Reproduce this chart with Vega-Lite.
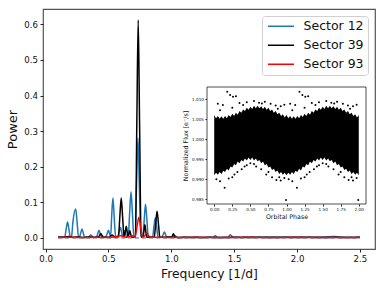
{
"$schema":"https://vega.github.io/schema/vega-lite/v6.json",
"width":332,"height":240,
"autosize":{"type":"none"},
"padding":{"left":43,"top":9,"right":9,"bottom":39},
"config":{"font":"DejaVu Sans","view":{"stroke":"#555","strokeWidth":1.2},
 "axis":{"grid":false,"domain":false,"tickColor":"#222","labelColor":"#111","titleColor":"#111","titleFontWeight":"normal","labelFlush":false}},
"layer":[
 {"data":{"values":[
{"s":"Sector 12","f":0.100,"p":0.002},{"s":"Sector 12","f":0.130,"p":0.003},{"s":"Sector 12","f":0.153,"p":0.003},{"s":"Sector 12","f":0.164,"p":0.025},{"s":"Sector 12","f":0.175,"p":0.045},{"s":"Sector 12","f":0.186,"p":0.025},{"s":"Sector 12","f":0.197,"p":0.003},{"s":"Sector 12","f":0.207,"p":0.004},{"s":"Sector 12","f":0.218,"p":0.045},{"s":"Sector 12","f":0.240,"p":0.081},{"s":"Sector 12","f":0.251,"p":0.045},{"s":"Sector 12","f":0.262,"p":0.004},{"s":"Sector 12","f":0.270,"p":0.003},{"s":"Sector 12","f":0.280,"p":0.014},{"s":"Sector 12","f":0.290,"p":0.025},{"s":"Sector 12","f":0.300,"p":0.014},{"s":"Sector 12","f":0.310,"p":0.002},{"s":"Sector 12","f":0.340,"p":0.002},{"s":"Sector 12","f":0.350,"p":0.005},{"s":"Sector 12","f":0.360,"p":0.008},{"s":"Sector 12","f":0.370,"p":0.005},{"s":"Sector 12","f":0.380,"p":0.001},{"s":"Sector 12","f":0.405,"p":0.003},{"s":"Sector 12","f":0.415,"p":0.012},{"s":"Sector 12","f":0.425,"p":0.022},{"s":"Sector 12","f":0.435,"p":0.012},{"s":"Sector 12","f":0.448,"p":0.002},{"s":"Sector 12","f":0.478,"p":0.003},{"s":"Sector 12","f":0.490,"p":0.012},{"s":"Sector 12","f":0.500,"p":0.022},{"s":"Sector 12","f":0.510,"p":0.012},{"s":"Sector 12","f":0.518,"p":0.004},{"s":"Sector 12","f":0.526,"p":0.060},{"s":"Sector 12","f":0.536,"p":0.112},{"s":"Sector 12","f":0.546,"p":0.060},{"s":"Sector 12","f":0.557,"p":0.004},{"s":"Sector 12","f":0.575,"p":0.004},{"s":"Sector 12","f":0.585,"p":0.017},{"s":"Sector 12","f":0.595,"p":0.030},{"s":"Sector 12","f":0.605,"p":0.017},{"s":"Sector 12","f":0.615,"p":0.003},{"s":"Sector 12","f":0.623,"p":0.011},{"s":"Sector 12","f":0.630,"p":0.020},{"s":"Sector 12","f":0.637,"p":0.011},{"s":"Sector 12","f":0.645,"p":0.003},{"s":"Sector 12","f":0.658,"p":0.004},{"s":"Sector 12","f":0.669,"p":0.070},{"s":"Sector 12","f":0.680,"p":0.130},{"s":"Sector 12","f":0.691,"p":0.070},{"s":"Sector 12","f":0.702,"p":0.004},{"s":"Sector 12","f":0.714,"p":0.004},{"s":"Sector 12","f":0.724,"p":0.150},{"s":"Sector 12","f":0.735,"p":0.280},{"s":"Sector 12","f":0.746,"p":0.150},{"s":"Sector 12","f":0.757,"p":0.004},{"s":"Sector 12","f":0.774,"p":0.004},{"s":"Sector 12","f":0.785,"p":0.052},{"s":"Sector 12","f":0.795,"p":0.095},{"s":"Sector 12","f":0.806,"p":0.052},{"s":"Sector 12","f":0.817,"p":0.003},{"s":"Sector 12","f":0.851,"p":0.003},{"s":"Sector 12","f":0.862,"p":0.031},{"s":"Sector 12","f":0.873,"p":0.057},{"s":"Sector 12","f":0.884,"p":0.031},{"s":"Sector 12","f":0.895,"p":0.003},{"s":"Sector 12","f":0.925,"p":0.002},{"s":"Sector 12","f":0.935,"p":0.009},{"s":"Sector 12","f":0.945,"p":0.017},{"s":"Sector 12","f":0.955,"p":0.009},{"s":"Sector 12","f":0.965,"p":0.002},{"s":"Sector 12","f":0.990,"p":0.002},{"s":"Sector 12","f":1.010,"p":0.002},{"s":"Sector 12","f":1.030,"p":0.006},{"s":"Sector 12","f":1.050,"p":0.001},{"s":"Sector 12","f":1.100,"p":0.002},{"s":"Sector 12","f":1.150,"p":0.002},{"s":"Sector 12","f":1.200,"p":0.003},{"s":"Sector 12","f":1.250,"p":0.001},{"s":"Sector 12","f":1.300,"p":0.002},{"s":"Sector 12","f":1.330,"p":0.002},{"s":"Sector 12","f":1.350,"p":0.006},{"s":"Sector 12","f":1.370,"p":0.001},{"s":"Sector 12","f":1.420,"p":0.002},{"s":"Sector 12","f":1.450,"p":0.002},{"s":"Sector 12","f":1.470,"p":0.009},{"s":"Sector 12","f":1.490,"p":0.002},{"s":"Sector 12","f":1.550,"p":0.002},{"s":"Sector 12","f":1.600,"p":0.003},{"s":"Sector 12","f":1.700,"p":0.002},{"s":"Sector 12","f":1.800,"p":0.003},{"s":"Sector 12","f":1.900,"p":0.002},{"s":"Sector 12","f":2.000,"p":0.003},{"s":"Sector 12","f":2.100,"p":0.002},{"s":"Sector 12","f":2.200,"p":0.003},{"s":"Sector 12","f":2.300,"p":0.004},{"s":"Sector 12","f":2.400,"p":0.002},{"s":"Sector 12","f":2.500,"p":0.003},
{"s":"Sector 39","f":0.100,"p":0.003},{"s":"Sector 39","f":0.140,"p":0.002},{"s":"Sector 39","f":0.180,"p":0.004},{"s":"Sector 39","f":0.220,"p":0.002},{"s":"Sector 39","f":0.260,"p":0.003},{"s":"Sector 39","f":0.300,"p":0.001},{"s":"Sector 39","f":0.340,"p":0.003},{"s":"Sector 39","f":0.380,"p":0.002},{"s":"Sector 39","f":0.420,"p":0.003},{"s":"Sector 39","f":0.430,"p":0.007},{"s":"Sector 39","f":0.440,"p":0.012},{"s":"Sector 39","f":0.450,"p":0.007},{"s":"Sector 39","f":0.460,"p":0.002},{"s":"Sector 39","f":0.505,"p":0.002},{"s":"Sector 39","f":0.518,"p":0.005},{"s":"Sector 39","f":0.530,"p":0.008},{"s":"Sector 39","f":0.542,"p":0.005},{"s":"Sector 39","f":0.555,"p":0.002},{"s":"Sector 39","f":0.580,"p":0.003},{"s":"Sector 39","f":0.591,"p":0.060},{"s":"Sector 39","f":0.602,"p":0.112},{"s":"Sector 39","f":0.613,"p":0.060},{"s":"Sector 39","f":0.624,"p":0.004},{"s":"Sector 39","f":0.635,"p":0.018},{"s":"Sector 39","f":0.642,"p":0.033},{"s":"Sector 39","f":0.649,"p":0.018},{"s":"Sector 39","f":0.656,"p":0.004},{"s":"Sector 39","f":0.663,"p":0.011},{"s":"Sector 39","f":0.670,"p":0.020},{"s":"Sector 39","f":0.677,"p":0.011},{"s":"Sector 39","f":0.685,"p":0.002},{"s":"Sector 39","f":0.715,"p":0.003},{"s":"Sector 39","f":0.726,"p":0.320},{"s":"Sector 39","f":0.737,"p":0.612},{"s":"Sector 39","f":0.748,"p":0.320},{"s":"Sector 39","f":0.760,"p":0.003},{"s":"Sector 39","f":0.775,"p":0.003},{"s":"Sector 39","f":0.783,"p":0.020},{"s":"Sector 39","f":0.790,"p":0.037},{"s":"Sector 39","f":0.797,"p":0.020},{"s":"Sector 39","f":0.806,"p":0.002},{"s":"Sector 39","f":0.865,"p":0.003},{"s":"Sector 39","f":0.876,"p":0.040},{"s":"Sector 39","f":0.887,"p":0.075},{"s":"Sector 39","f":0.898,"p":0.040},{"s":"Sector 39","f":0.909,"p":0.002},{"s":"Sector 39","f":0.950,"p":0.002},{"s":"Sector 39","f":0.980,"p":0.003},{"s":"Sector 39","f":1.005,"p":0.003},{"s":"Sector 39","f":1.017,"p":0.012},{"s":"Sector 39","f":1.029,"p":0.003},{"s":"Sector 39","f":1.060,"p":0.001},{"s":"Sector 39","f":1.100,"p":0.002},{"s":"Sector 39","f":1.200,"p":0.001},{"s":"Sector 39","f":1.300,"p":0.002},{"s":"Sector 39","f":1.400,"p":0.001},{"s":"Sector 39","f":1.500,"p":0.002},{"s":"Sector 39","f":1.600,"p":0.001},{"s":"Sector 39","f":1.700,"p":0.002},{"s":"Sector 39","f":1.800,"p":0.001},{"s":"Sector 39","f":1.900,"p":0.002},{"s":"Sector 39","f":2.000,"p":0.001},{"s":"Sector 39","f":2.100,"p":0.002},{"s":"Sector 39","f":2.200,"p":0.001},{"s":"Sector 39","f":2.300,"p":0.002},{"s":"Sector 39","f":2.400,"p":0.001},{"s":"Sector 39","f":2.500,"p":0.002},
{"s":"Sector 93","f":0.100,"p":0.001},{"s":"Sector 93","f":0.200,"p":0.002},{"s":"Sector 93","f":0.300,"p":0.001},{"s":"Sector 93","f":0.400,"p":0.002},{"s":"Sector 93","f":0.500,"p":0.001},{"s":"Sector 93","f":0.550,"p":0.003},{"s":"Sector 93","f":0.600,"p":0.006},{"s":"Sector 93","f":0.640,"p":0.002},{"s":"Sector 93","f":0.690,"p":0.006},{"s":"Sector 93","f":0.712,"p":0.002},{"s":"Sector 93","f":0.727,"p":0.030},{"s":"Sector 93","f":0.742,"p":0.058},{"s":"Sector 93","f":0.757,"p":0.030},{"s":"Sector 93","f":0.772,"p":0.002},{"s":"Sector 93","f":0.790,"p":0.006},{"s":"Sector 93","f":0.805,"p":0.014},{"s":"Sector 93","f":0.820,"p":0.006},{"s":"Sector 93","f":0.835,"p":0.002},{"s":"Sector 93","f":0.900,"p":0.002},{"s":"Sector 93","f":1.000,"p":0.001},{"s":"Sector 93","f":1.200,"p":0.002},{"s":"Sector 93","f":1.400,"p":0.001},{"s":"Sector 93","f":1.600,"p":0.002},{"s":"Sector 93","f":1.800,"p":0.001},{"s":"Sector 93","f":2.000,"p":0.002},{"s":"Sector 93","f":2.200,"p":0.001},{"s":"Sector 93","f":2.500,"p":0.001}
 ]},
  "mark":{"type":"line","strokeWidth":1.5,"interpolate":"monotone"},
   "encoding":{
    "x":{"field":"f","type":"quantitative","scale":{"domain":[-0.02,2.62],"nice":false,"zero":false},
      "axis":{"orient":"bottom","values":[0,0.5,1,1.5,2,2.5],"format":".1f","labelFontSize":8.6,"tickSize":3,"labelPadding":2.5,"title":"Frequency [1/d]","titleFontSize":12.3,"titlePadding":4}},
    "y":{"field":"p","type":"quantitative","scale":{"domain":[-0.031,0.643],"nice":false,"zero":false},
      "axis":{"orient":"left","values":[0,0.1,0.2,0.3,0.4,0.5,0.6],"format":".1f","labelFontSize":8.6,"tickSize":3,"labelPadding":2.5,"title":"Power","titleFontSize":13,"titlePadding":4}},
    "color":{"field":"s","type":"nominal","scale":{"domain":["Sector 12","Sector 39","Sector 93"],"range":["#1f77b4","#000000","#ff0000"]},
      "legend":{"title":null,"orient":"top-right","offset":7,"symbolType":"M-1,0H5","symbolSize":76,"symbolStrokeWidth":1.5,"labelFontSize":12.5,"labelOffset":25,"rowPadding":6,"padding":4,"strokeColor":"#d0d0d0","fillColor":"white","cornerRadius":3,"labelColor":"#111"}}
   }},
 {"data":{"values":[{}]},
  "mark":{"type":"rule","strokeDash":[4,3],"color":"#666","strokeWidth":1},
  "encoding":{"x":{"datum":0.1,"type":"quantitative","scale":{"domain":[-0.02,2.62],"nice":false,"zero":false},"axis":null},"x2":{"datum":2.5},
   "y":{"datum":0,"type":"quantitative","scale":{"domain":[-0.031,0.643],"nice":false,"zero":false},"axis":null}}},
 {"data":{"values":[{}]},
  "mark":{"type":"rect","fill":"white","stroke":"#222","strokeWidth":0.8},
  "encoding":{
   "x":{"datum":-0.1,"type":"quantitative","scale":{"domain":[-0.1,2.1],"range":[164,323],"nice":false,"zero":false},"axis":null},
   "x2":{"datum":2.1},
   "y":{"datum":0.98383,"type":"quantitative","scale":{"domain":[0.98383,1.013],"range":[195,78],"nice":false,"zero":false},"axis":null},
   "y2":{"datum":1.013}
  }},
 {"data":{"values":[
{"ph":0.000,"lo":0.9910,"hi":1.0060},{"ph":0.025,"lo":0.9916,"hi":1.0052},{"ph":0.050,"lo":0.9911,"hi":1.0058},{"ph":0.075,"lo":0.9918,"hi":1.0051},{"ph":0.100,"lo":0.9913,"hi":1.0057},{"ph":0.125,"lo":0.9921,"hi":1.0051},{"ph":0.150,"lo":0.9918,"hi":1.0058},{"ph":0.175,"lo":0.9926,"hi":1.0052},{"ph":0.200,"lo":0.9922,"hi":1.0060},{"ph":0.225,"lo":0.9932,"hi":1.0055},{"ph":0.250,"lo":0.9929,"hi":1.0063},{"ph":0.275,"lo":0.9938,"hi":1.0058},{"ph":0.300,"lo":0.9935,"hi":1.0066},{"ph":0.325,"lo":0.9944,"hi":1.0061},{"ph":0.350,"lo":0.9940,"hi":1.0070},{"ph":0.375,"lo":0.9948,"hi":1.0066},{"ph":0.400,"lo":0.9944,"hi":1.0074},{"ph":0.425,"lo":0.9952,"hi":1.0070},{"ph":0.450,"lo":0.9947,"hi":1.0078},{"ph":0.475,"lo":0.9954,"hi":1.0073},{"ph":0.500,"lo":0.9948,"hi":1.0081},{"ph":0.525,"lo":0.9954,"hi":1.0075},{"ph":0.550,"lo":0.9947,"hi":1.0083},{"ph":0.575,"lo":0.9952,"hi":1.0077},{"ph":0.600,"lo":0.9945,"hi":1.0083},{"ph":0.625,"lo":0.9948,"hi":1.0077},{"ph":0.650,"lo":0.9940,"hi":1.0082},{"ph":0.675,"lo":0.9944,"hi":1.0075},{"ph":0.700,"lo":0.9935,"hi":1.0081},{"ph":0.725,"lo":0.9938,"hi":1.0073},{"ph":0.750,"lo":0.9929,"hi":1.0078},{"ph":0.775,"lo":0.9932,"hi":1.0070},{"ph":0.800,"lo":0.9923,"hi":1.0074},{"ph":0.825,"lo":0.9926,"hi":1.0066},{"ph":0.850,"lo":0.9918,"hi":1.0070},{"ph":0.875,"lo":0.9922,"hi":1.0062},{"ph":0.900,"lo":0.9913,"hi":1.0066},{"ph":0.925,"lo":0.9918,"hi":1.0058},{"ph":0.950,"lo":0.9911,"hi":1.0062},{"ph":0.975,"lo":0.9916,"hi":1.0054},
{"ph":1.000,"lo":0.9910,"hi":1.0060},{"ph":1.025,"lo":0.9916,"hi":1.0052},{"ph":1.050,"lo":0.9911,"hi":1.0058},{"ph":1.075,"lo":0.9918,"hi":1.0051},{"ph":1.100,"lo":0.9913,"hi":1.0057},{"ph":1.125,"lo":0.9921,"hi":1.0051},{"ph":1.150,"lo":0.9918,"hi":1.0058},{"ph":1.175,"lo":0.9926,"hi":1.0052},{"ph":1.200,"lo":0.9922,"hi":1.0060},{"ph":1.225,"lo":0.9932,"hi":1.0055},{"ph":1.250,"lo":0.9929,"hi":1.0063},{"ph":1.275,"lo":0.9938,"hi":1.0058},{"ph":1.300,"lo":0.9935,"hi":1.0066},{"ph":1.325,"lo":0.9944,"hi":1.0061},{"ph":1.350,"lo":0.9940,"hi":1.0070},{"ph":1.375,"lo":0.9948,"hi":1.0066},{"ph":1.400,"lo":0.9944,"hi":1.0074},{"ph":1.425,"lo":0.9952,"hi":1.0070},{"ph":1.450,"lo":0.9947,"hi":1.0078},{"ph":1.475,"lo":0.9954,"hi":1.0073},{"ph":1.500,"lo":0.9948,"hi":1.0081},{"ph":1.525,"lo":0.9954,"hi":1.0075},{"ph":1.550,"lo":0.9947,"hi":1.0083},{"ph":1.575,"lo":0.9952,"hi":1.0077},{"ph":1.600,"lo":0.9945,"hi":1.0083},{"ph":1.625,"lo":0.9948,"hi":1.0077},{"ph":1.650,"lo":0.9940,"hi":1.0082},{"ph":1.675,"lo":0.9944,"hi":1.0075},{"ph":1.700,"lo":0.9935,"hi":1.0081},{"ph":1.725,"lo":0.9938,"hi":1.0073},{"ph":1.750,"lo":0.9929,"hi":1.0078},{"ph":1.775,"lo":0.9932,"hi":1.0070},{"ph":1.800,"lo":0.9923,"hi":1.0074},{"ph":1.825,"lo":0.9926,"hi":1.0066},{"ph":1.850,"lo":0.9918,"hi":1.0070},{"ph":1.875,"lo":0.9922,"hi":1.0062},{"ph":1.900,"lo":0.9913,"hi":1.0066},{"ph":1.925,"lo":0.9918,"hi":1.0058},{"ph":1.950,"lo":0.9911,"hi":1.0062},{"ph":1.975,"lo":0.9916,"hi":1.0054},{"ph":2.000,"lo":0.9910,"hi":1.0060}
 ]},
  "mark":{"type":"area","color":"black","opacity":1},
  "encoding":{
   "x":{"field":"ph","type":"quantitative","scale":{"domain":[-0.1,2.1],"range":[164,323],"nice":false,"zero":false},
     "axis":{"orient":"bottom","offset":-45,"values":[0,0.25,0.5,0.75,1,1.25,1.5,1.75,2],"format":".2f","labelFontSize":4.2,"tickSize":2,"labelPadding":1.5,"title":"Orbital Phase","titleFontSize":6.3,"titlePadding":1.5}},
   "y":{"field":"lo","type":"quantitative","scale":{"domain":[0.98383,1.013],"range":[195,78],"nice":false,"zero":false},
     "axis":{"orient":"left","offset":-164,"values":[0.985,0.99,0.995,1.0,1.005,1.01],"format":".3f","labelFontSize":4.2,"tickSize":2,"labelPadding":1.5,"title":"Normalized Flux [e⁻/s]","titleFontSize":6.3,"titlePadding":3}},
   "y2":{"field":"hi"}}},
 {"data":{"values":[
{"ph":0.18,"fx":1.0118},{"ph":0.22,"fx":1.0110},{"ph":0.26,"fx":1.0106},{"ph":0.30,"fx":1.0107},{"ph":0.05,"fx":1.0088},{"ph":0.12,"fx":1.0085},{"ph":0.35,"fx":1.0090},{"ph":0.45,"fx":1.0092},{"ph":0.55,"fx":1.0095},{"ph":0.62,"fx":1.0091},{"ph":0.70,"fx":1.0093},{"ph":0.78,"fx":1.0088},{"ph":0.85,"fx":1.0084},{"ph":0.92,"fx":1.0082},{"ph":0.97,"fx":1.0086},{"ph":0.08,"fx":1.0072},{"ph":0.25,"fx":1.0078},{"ph":0.40,"fx":1.0085},{"ph":0.66,"fx":1.0089},{"ph":0.88,"fx":1.0076},
{"ph":0.144,"fx":0.9879},{"ph":0.993,"fx":0.9848},{"ph":0.03,"fx":0.9900},{"ph":0.08,"fx":0.9895},{"ph":0.20,"fx":0.9902},{"ph":0.25,"fx":0.9905},{"ph":0.32,"fx":0.9918},{"ph":0.38,"fx":0.9925},{"ph":0.45,"fx":0.9935},{"ph":0.50,"fx":0.9940},{"ph":0.58,"fx":0.9932},{"ph":0.65,"fx":0.9925},{"ph":0.72,"fx":0.9912},{"ph":0.80,"fx":0.9905},{"ph":0.86,"fx":0.9898},{"ph":0.92,"fx":0.9897},{"ph":0.97,"fx":0.9903},{"ph":0.28,"fx":0.9912},{"ph":0.42,"fx":0.9932},{"ph":0.55,"fx":0.9938},{"ph":0.75,"fx":0.9918},{"ph":0.90,"fx":0.9905},
{"ph":1.18,"fx":1.0118},{"ph":1.22,"fx":1.0110},{"ph":1.26,"fx":1.0106},{"ph":1.30,"fx":1.0107},{"ph":1.05,"fx":1.0088},{"ph":1.12,"fx":1.0085},{"ph":1.35,"fx":1.0090},{"ph":1.45,"fx":1.0092},{"ph":1.55,"fx":1.0095},{"ph":1.62,"fx":1.0091},{"ph":1.70,"fx":1.0093},{"ph":1.78,"fx":1.0088},{"ph":1.85,"fx":1.0084},{"ph":1.92,"fx":1.0082},{"ph":1.97,"fx":1.0086},{"ph":1.08,"fx":1.0072},{"ph":1.25,"fx":1.0078},{"ph":1.40,"fx":1.0085},{"ph":1.66,"fx":1.0089},{"ph":1.88,"fx":1.0076},
{"ph":1.144,"fx":0.9879},{"ph":1.993,"fx":0.9848},{"ph":1.03,"fx":0.9900},{"ph":1.08,"fx":0.9895},{"ph":1.20,"fx":0.9902},{"ph":1.25,"fx":0.9905},{"ph":1.32,"fx":0.9918},{"ph":1.38,"fx":0.9925},{"ph":1.45,"fx":0.9935},{"ph":1.50,"fx":0.9940},{"ph":1.58,"fx":0.9932},{"ph":1.65,"fx":0.9925},{"ph":1.72,"fx":0.9912},{"ph":1.80,"fx":0.9905},{"ph":1.86,"fx":0.9898},{"ph":1.92,"fx":0.9897},{"ph":1.97,"fx":0.9903},{"ph":1.28,"fx":0.9912},{"ph":1.42,"fx":0.9932},{"ph":1.55,"fx":0.9938},{"ph":1.75,"fx":0.9918},{"ph":1.90,"fx":0.9905}
 ]},
  "mark":{"type":"circle","color":"black","size":4,"opacity":1},
  "encoding":{
   "x":{"field":"ph","type":"quantitative","scale":{"domain":[-0.1,2.1],"range":[164,323],"nice":false,"zero":false},"axis":null},
   "y":{"field":"fx","type":"quantitative","scale":{"domain":[0.98383,1.013],"range":[195,78],"nice":false,"zero":false},"axis":null}}}
],
"resolve":{"scale":{"x":"independent","y":"independent"},"axis":{"x":"independent","y":"independent"}}
}
